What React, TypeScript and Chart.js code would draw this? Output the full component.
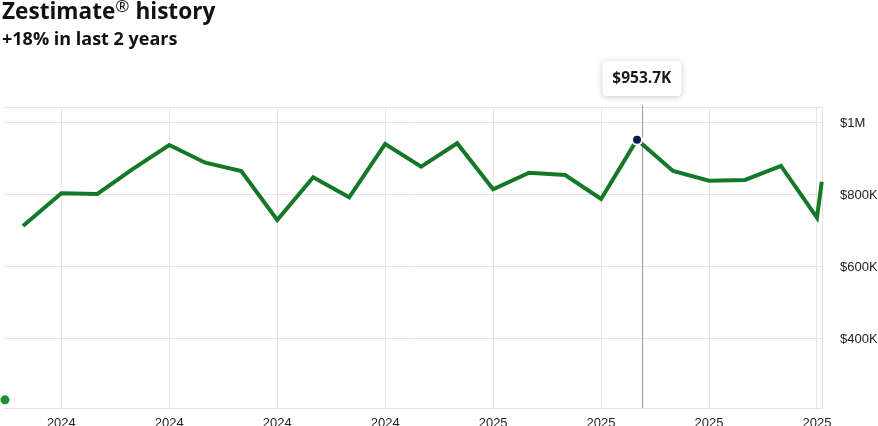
import React, { useEffect, useRef } from 'react';
import { Chart, registerables } from 'chart.js';

Chart.register(...registerables);

// ---- Data ----
const titleText = 'Zestimate';
const titleTail = ' history';
const subtitleText = '+18% in last 2 years';

const pointDates = [
  '2023-11-29', '2024-01-01', '2024-02-01', '2024-03-01', '2024-04-01', '2024-05-01',
  '2024-06-01', '2024-07-01', '2024-08-01', '2024-09-01', '2024-10-01', '2024-11-01',
  '2024-12-01', '2025-01-01', '2025-02-01', '2025-03-01', '2025-04-01', '2025-05-01',
  '2025-06-01', '2025-07-01', '2025-08-01', '2025-09-01', '2025-10-01', '2025-10-05',
];
const zestimateK = [
  713.9, 804.7, 802.8, 873.3, 938.9, 889.7,
  866.7, 730.6, 849.2, 793.6, 941.7, 878.6,
  943.6, 815.8, 862.0, 855.6, 788.9, 953.7,
  866.7, 839.7, 841.7, 880.6, 736.9, 836.9,
];
const tickDates = [
  '2024-01-01', '2024-04-01', '2024-07-01', '2024-10-01',
  '2025-01-01', '2025-04-01', '2025-07-01', '2025-10-01',
];
const yTicksK = [400, 600, 800, 1000];
const highlightIndex = 17;
const highlightLabel = '$953.7K';
const crosshairDate = '2025-05-05';
const startMarkerDate = '2023-11-14';
const startMarkerK = 231;

// months since Dec 2023
const toMonth = (d: string) => {
  const [y, m, day] = d.split('-').map(Number);
  return (y - 2023) * 12 + (m - 12) + (day - 1) / 30;
};
const yearOf = (d: string) => d.slice(0, 4);

const tickMonths = tickDates.map(toMonth);
const tickLabelByMonth = new Map(tickDates.map((d) => [toMonth(d), yearOf(d)]));

const fmtK = (v: number) => (v >= 1000 ? '$' + v / 1000 + 'M' : '$' + v + 'K');

export default function App() {
  const ref = useRef<HTMLCanvasElement>(null);

  useEffect(() => {
    document.body.style.margin = '0';
    const canvas = ref.current!;
    const overlay = {
      id: 'overlay',
      beforeDatasetsDraw(chart: any) {
        const { ctx, chartArea, scales } = chart;
        const x = scales.x.getPixelForValue(toMonth(crosshairDate));
        ctx.save();
        ctx.strokeStyle = '#9a9a9a';
        ctx.lineWidth = 1;
        ctx.beginPath();
        ctx.moveTo(Math.round(x) + 0.5, chartArea.top - 2);
        ctx.lineTo(Math.round(x) + 0.5, chartArea.bottom);
        ctx.stroke();
        ctx.restore();
      },
      afterDraw(chart: any) {
        const { ctx, chartArea, scales } = chart;
        const x = scales.x.getPixelForValue(toMonth(crosshairDate));
        const w = 79;
        const h = 35;
        const bx = x - w / 2;
        const by = chartArea.top - 11 - h;
        ctx.save();
        ctx.shadowColor = 'rgba(0,0,0,0.22)';
        ctx.shadowBlur = 6;
        ctx.shadowOffsetY = 1;
        ctx.fillStyle = '#ffffff';
        ctx.beginPath();
        ctx.roundRect(bx, by, w, h, 4);
        ctx.fill();
        ctx.shadowColor = 'transparent';
        ctx.fillStyle = '#1b1b1f';
        ctx.font = 'bold 15.5px "Open Sans"';
        ctx.textAlign = 'center';
        ctx.textBaseline = 'middle';
        ctx.fillText(highlightLabel, x, by + h / 2 + 0.5);
        ctx.restore();
      },
    };

    const chart = new Chart(canvas, {
      type: 'line',
      data: {
        datasets: [
          {
            label: 'Zestimate',
            data: pointDates.map((d, i) => ({ x: toMonth(d), y: zestimateK[i] })),
            borderColor: '#157828',
            borderWidth: 4,
            tension: 0,
            pointRadius: (c: any) => (c.dataIndex === highlightIndex ? 5 : 0),
            pointBackgroundColor: '#101a4c',
            pointBorderColor: '#ffffff',
            pointBorderWidth: 2,
            pointHoverRadius: 0,
            clip: 8,
            order: 1,
          } as any,
          {
            label: 'start',
            data: [{ x: toMonth(startMarkerDate), y: startMarkerK }],
            showLine: false,
            pointRadius: 4.5,
            pointBackgroundColor: '#1c8f36',
            pointBorderColor: '#1c8f36',
            pointBorderWidth: 0,
            clip: false,
            order: 2,
          } as any,
        ],
      },
      options: {
        responsive: false,
        animation: false,
        events: [],
        layout: { padding: { top: 107, left: 3, right: 0, bottom: 0 } },
        plugins: { legend: { display: false }, tooltip: { enabled: false } },
        scales: {
          x: {
            type: 'linear',
            min: -0.58,
            max: 22.14,
            afterFit: (s: any) => { s.height = 32; },
            afterBuildTicks: (s: any) => { s.ticks = tickMonths.map((v) => ({ value: v })); },
            grid: { color: '#e6e6e6', drawTicks: false },
            border: { display: true, color: '#e3e3e3' },
            ticks: {
              padding: 8,
              color: '#222',
              font: { family: '"Liberation Sans", Arial', size: 13 },
              maxRotation: 0,
              autoSkip: false,
              callback: (v: any) => tickLabelByMonth.get(v) ?? '',
            },
          },
          y: {
            position: 'right',
            min: 208.3,
            max: 1044.4,
            afterFit: (s: any) => { s.width = 56; },
            afterBuildTicks: (s: any) => {
              s.ticks = [...yTicksK, 1044.4].map((v) => ({ value: v }));
            },
            grid: { color: '#e6e6e6', drawTicks: false },
            border: { display: true, color: '#e3e3e3' },
            ticks: {
              padding: 18,
              color: '#222',
              font: { family: '"Liberation Sans", Arial', size: 13 },
              callback: (v: any) => (yTicksK.includes(v) ? fmtK(v) : ''),
            },
          },
        },
      },
      plugins: [overlay],
    });
    return () => chart.destroy();
  }, []);

  return (
    <div style={{ position: 'relative', width: 878, height: 426, overflow: 'hidden', background: '#fff' }}>
      <canvas ref={ref} width={878} height={440} style={{ position: 'absolute', left: 0, top: 0 }} />
      <div
        style={{
          position: 'absolute', left: 2, top: 0, fontFamily: '"Open Sans", sans-serif',
          fontWeight: 700, fontSize: 22.6, lineHeight: '22px', color: '#111', whiteSpace: 'nowrap',
        }}
      >
        {titleText}
        <sup style={{ fontSize: 17, fontWeight: 400, verticalAlign: 'top', lineHeight: '17px', position: 'relative', top: -3 }}>®</sup>
        {titleTail}
      </div>
      <div
        style={{
          position: 'absolute', left: 2, top: 29, fontFamily: '"Open Sans", sans-serif',
          fontWeight: 700, fontSize: 18, lineHeight: '18px', color: '#111', whiteSpace: 'nowrap',
        }}
      >
        {subtitleText}
      </div>
    </div>
  );
}
